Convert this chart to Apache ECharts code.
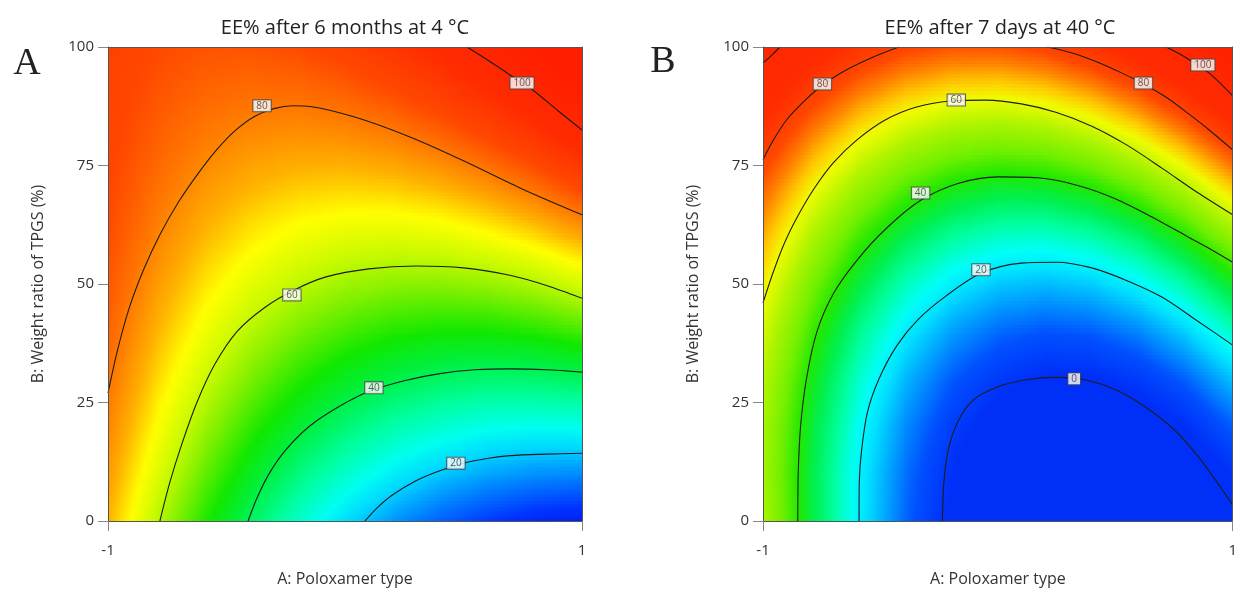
<!DOCTYPE html>
<html>
<head>
<meta charset="utf-8">
<title>EE% contour plots</title>
<script src="https://cdn.jsdelivr.net/npm/echarts@6/dist/echarts.min.js"></script>
<style>
  html, body { margin: 0; padding: 0; background: #fff; }
  #main { width: 1240px; height: 597px; }
</style>
</head>
<body>
<div id="main"></div>
<script>
// grid nodes: A coded -1..1, B in %
var aNodes = [-1, -0.8, -0.6, -0.4, -0.2, 0, 0.2, 0.4, 0.6, 0.8, 1];
var bNodes = [0, 10, 20, 30, 40, 50, 60, 70, 80, 90, 100];

// EE% after 6 months at 4 °C, one row per B value (bottom -> top)
var eeA = [
  [73.9, 61.2, 49.7, 39.5, 30.5, 22.8, 16.2, 10.9, 6.9, 4.0, 2.4],
  [76.4, 64.8, 54.3, 45.1, 37.1, 30.4, 24.9, 20.6, 17.5, 15.7, 15.1],
  [78.7, 68.1, 58.6, 50.4, 43.5, 37.8, 33.3, 30.0, 27.9, 27.1, 27.6],
  [80.8, 71.2, 62.8, 55.6, 49.6, 44.9, 41.4, 39.2, 38.1, 38.3, 39.8],
  [82.6, 74.0, 66.6, 60.4, 55.5, 51.8, 49.3, 48.1, 48.1, 49.3, 51.8],
  [84.2, 76.6, 70.2, 65.1, 61.2, 58.5, 57.0, 56.8, 57.8, 60.0, 63.5],
  [85.5, 79.0, 73.6, 69.5, 66.6, 64.9, 64.5, 65.2, 67.3, 70.5, 75.0],
  [86.6, 81.1, 76.7, 73.6, 71.7, 71.1, 71.6, 73.4, 76.5, 80.8, 86.3],
  [87.5, 83.0, 79.6, 77.5, 76.7, 77.0, 78.6, 81.4, 85.5, 90.8, 97.3],
  [88.1, 84.6, 82.3, 81.2, 81.3, 82.7, 85.3, 89.2, 94.2, 100.5, 108.1],
  [88.5, 86.0, 84.7, 84.6, 85.8, 88.2, 91.8, 96.7, 102.7, 110.1, 118.6]
];

// EE% after 7 days at 40 °C
var eeB = [
  [53.4, 35.7, 20.6, 8.2, -1.6, -8.7, -13.2, -15.1, -14.4, -11.0, -5.0],
  [52.5, 35.4, 20.9, 9.1, -0.1, -6.7, -10.6, -11.8, -10.4, -6.4, 0.3],
  [53.0, 36.4, 22.5, 11.3, 2.7, -3.2, -6.4, -7.0, -4.9, -0.2, 7.2],
  [54.8, 38.8, 25.5, 14.9, 7.0, 1.8, -0.8, -0.7, 2.1, 7.5, 15.7],
  [57.9, 42.6, 29.9, 20.0, 12.7, 8.2, 6.3, 7.1, 10.6, 16.8, 25.7],
  [62.3, 47.6, 35.7, 26.4, 19.9, 16.0, 14.9, 16.4, 20.7, 27.6, 37.3],
  [68.1, 54.1, 42.8, 34.2, 28.4, 25.3, 24.9, 27.2, 32.2, 40.0, 50.5],
  [75.1, 61.8, 51.3, 43.5, 38.4, 36.0, 36.4, 39.5, 45.3, 53.9, 65.2],
  [83.5, 71.0, 61.1, 54.1, 49.8, 48.2, 49.4, 53.3, 60.0, 69.4, 81.5],
  [93.2, 81.4, 72.4, 66.1, 62.6, 61.8, 63.8, 68.6, 76.1, 86.4, 99.4],
  [104.3, 93.2, 85.0, 79.5, 76.8, 76.9, 79.7, 85.4, 93.8, 105.0, 118.9]
];

// contour lines [A, B]
var contA100 = [[0.515, 100], [0.6, 97.3], [0.7, 94], [0.8, 90.6], [0.9, 86.5], [1, 82.5]];
var contA80 = [[-1, 27], [-0.96, 36], [-0.91, 45], [-0.85, 53], [-0.78, 60.5], [-0.7, 67.5], [-0.62, 73.3],
  [-0.54, 78.4], [-0.46, 82.5], [-0.38, 85.4], [-0.3, 87.0], [-0.22, 87.6], [-0.14, 87.4], [-0.06, 86.6],
  [0.1, 84.3], [0.3, 80.5], [0.5, 76.0], [0.75, 70.0], [1, 64.6]];
var contA60 = [[-0.781, 0], [-0.74, 8], [-0.69, 16], [-0.625, 25], [-0.55, 33], [-0.455, 40], [-0.34, 45],
  [-0.22, 48.6], [-0.08, 51.5], [0.1, 53.2], [0.3, 53.8], [0.5, 53.4], [0.7, 51.8], [0.85, 49.7], [1, 47.0]];
var contA40 = [[-0.409, 0], [-0.37, 5], [-0.32, 10], [-0.25, 15], [-0.15, 20], [-0.03, 24], [0.1, 27.3],
  [0.25, 29.6], [0.4, 31.1], [0.55, 31.9], [0.7, 32.1], [0.85, 31.9], [1, 31.4]];
var contA20 = [[0.084, 0], [0.14, 3], [0.2, 5.5], [0.3, 8.5], [0.4, 10.6], [0.5, 12.2], [0.6, 13.2],
  [0.7, 13.8], [0.85, 14.1], [1, 14.3]];

var contB100a = [[-1, 96.6], [-0.96, 98.4], [-0.928, 100]];
var contB100b = [[0.717, 100], [0.8, 97.8], [0.9, 94.5], [1, 89.7]];
var contB80a = [[-1, 76.2], [-0.96, 80], [-0.9, 84.6], [-0.82, 88.8], [-0.74, 92.2], [-0.64, 95.3],
  [-0.54, 97.7], [-0.422, 100]];
var contB80b = [[0.211, 100], [0.32, 98.7], [0.42, 96.9], [0.52, 94.7], [0.62, 92.2], [0.72, 89.3],
  [0.81, 86.0], [0.9, 82.5], [1, 78.3]];
var contB60 = [[-1, 46.0], [-0.96, 52], [-0.91, 58.5], [-0.85, 64.5], [-0.78, 70.3], [-0.7, 75.6],
  [-0.6, 80.4], [-0.48, 84.6], [-0.35, 87.3], [-0.2, 88.6], [-0.05, 88.8], [0.1, 88], [0.25, 86.2],
  [0.4, 83.3], [0.55, 79.3], [0.7, 74.4], [0.85, 69.3], [1, 64.6]];
var contB40 = [[-0.852, 0], [-0.85, 10], [-0.84, 20], [-0.815, 30], [-0.77, 40], [-0.7, 48], [-0.6, 55],
  [-0.48, 61.5], [-0.33, 67.6], [-0.17, 71.2], [0, 72.6], [0.17, 72.4], [0.34, 70.8], [0.5, 68],
  [0.65, 64.3], [0.8, 60.2], [0.9, 57.5], [1, 54.6]];
var contB20 = [[-0.591, 0], [-0.59, 8], [-0.58, 15], [-0.555, 23], [-0.506, 30], [-0.43, 37], [-0.34, 42.5],
  [-0.22, 47.5], [-0.07, 52.3], [0.1, 54.4], [0.25, 54.6], [0.4, 53.4], [0.55, 50.7], [0.7, 47.2],
  [0.85, 42.2], [1, 37.1]];
var contB0 = [[-0.236, 0], [-0.23, 8], [-0.211, 15], [-0.17, 21], [-0.105, 25.5], [0, 28.3], [0.12, 29.8],
  [0.25, 30.3], [0.38, 29.7], [0.506, 27.6], [0.63, 24], [0.75, 19.3], [0.85, 13.8], [0.93, 8.4], [1, 3.4]];

// contour labels [A, B, text]
var labelsA = [[0.747, 92.4, '100'], [-0.35, 87.6, '80'], [-0.224, 47.7, '60'], [0.122, 28.1, '40'], [0.468, 12.2, '20']];
var labelsB = [[0.873, 96.2, '100'], [0.620, 92.4, '80'], [-0.747, 92.2, '80'], [-0.177, 88.8, '60'],
  [-0.329, 69.2, '40'], [-0.072, 53.0, '20'], [0.325, 30.0, '0']];

var titles = ['EE% after 6 months at 4 °C', 'EE% after 7 days at 40 °C'];

// colour ramps (value -> colour)
var rampA = [
  [0, '#0018e8'], [6, '#0030ff'], [14, '#0080ff'], [22, '#00d8ff'], [27, '#00fff0'],
  [34, '#00ffa0'], [42, '#00f040'], [48, '#10e800'], [56, '#80f000'], [62, '#c8fa00'],
  [68, '#ffff00'], [74, '#ffb000'], [80, '#ff7800'], [86, '#ff4800'], [95, '#ff2c00'], [110, '#ff1e00']
];
var rampB = [
  [0, '#0030f8'], [6, '#0050ff'], [12, '#0098ff'], [18, '#00e0ff'], [22, '#00fff8'],
  [28, '#00ffa0'], [34, '#00f050'], [40, '#20e800'], [46, '#70f000'], [54, '#b0f400'],
  [61, '#f0fc00'], [66, '#ffc800'], [72, '#ff8000'], [78, '#ff4800'], [88, '#ff2c00'], [120, '#ff2000']
];

function hexRgb(h) {
  return [parseInt(h.substr(1, 2), 16), parseInt(h.substr(3, 2), 16), parseInt(h.substr(5, 2), 16)];
}
function rampColor(ramp, v) {
  if (v <= ramp[0][0]) return ramp[0][1];
  for (var i = 1; i < ramp.length; i++) {
    if (v <= ramp[i][0]) {
      var t = (v - ramp[i - 1][0]) / (ramp[i][0] - ramp[i - 1][0]);
      var c0 = hexRgb(ramp[i - 1][1]), c1 = hexRgb(ramp[i][1]);
      return 'rgb(' + Math.round(c0[0] + (c1[0] - c0[0]) * t) + ',' +
        Math.round(c0[1] + (c1[1] - c0[1]) * t) + ',' + Math.round(c0[2] + (c1[2] - c0[2]) * t) + ')';
    }
  }
  return ramp[ramp.length - 1][1];
}

// surface drawn cell by cell, shaded between the four node values
function surface(g, ee, ramp) {
  var nA = aNodes.length - 1;
  var cells = [];
  for (var j = 0; j < bNodes.length - 1; j++)
    for (var i = 0; i < nA; i++) cells.push([aNodes[i], bNodes[j]]);
  return {
    type: 'custom', xAxisIndex: g, yAxisIndex: g, clip: true, silent: true, z: 1,
    data: cells,
    renderItem: function (params, api) {
      var i = params.dataIndex % nA, j = Math.floor(params.dataIndex / nA);
      var p0 = api.coord([aNodes[i], bNodes[j]]);
      var p1 = api.coord([aNodes[i + 1], bNodes[j + 1]]);
      var v00 = ee[j][i], v10 = ee[j][i + 1], v01 = ee[j + 1][i], v11 = ee[j + 1][i + 1];
      var strips = 14, nStops = 8;
      var h = (p0[1] - p1[1]) / strips;
      var kids = [];
      for (var k = 0; k < strips; k++) {
        var w = 1 - (k + 0.5) / strips;
        var vl = v00 + (v01 - v00) * w, vr = v10 + (v11 - v10) * w;
        var stops = [];
        for (var s = 0; s <= nStops; s++) {
          var u = s / nStops;
          stops.push({ offset: u, color: rampColor(ramp, vl + (vr - vl) * u) });
        }
        kids.push({
          type: 'rect',
          shape: { x: p0[0], y: p1[1] + k * h, width: p1[0] - p0[0] + 0.8, height: h + 0.8 },
          style: { fill: { type: 'linear', x: 0, y: 0, x2: 1, y2: 0, colorStops: stops } }
        });
      }
      return { type: 'group', children: kids };
    }
  };
}

function contour(pts, g) {
  return {
    type: 'line', xAxisIndex: g, yAxisIndex: g, data: pts, symbol: 'none', showSymbol: false,
    smooth: 0.3, clip: true, silent: true, z: 3,
    lineStyle: { color: '#1c1c1c', width: 1.1 }
  };
}

function labels(data, g) {
  return {
    type: 'scatter', xAxisIndex: g, yAxisIndex: g, data: data, symbol: 'rect', symbolSize: 1,
    itemStyle: { color: 'rgba(0,0,0,0)' }, silent: true, z: 5,
    label: {
      show: true, position: 'inside', formatter: function (p) { return p.value[2]; },
      fontSize: 10, color: '#333', fontFamily: 'Open Sans', backgroundColor: '#fff',
      borderColor: '#444', borderWidth: 1, padding: [1, 3, 0, 3]
    }
  };
}

var grids = [
  { left: 108, top: 47, width: 474, height: 474 },
  { left: 763, top: 47, width: 474, height: 474 }
];
var textCol = '#333';
var xAxes = [], yAxes = [];
[0, 1].forEach(function (g) {
  xAxes.push({
    type: 'value', gridIndex: g, min: -1, max: 1, interval: 2, z: 6,
    name: 'A: Poloxamer type', nameLocation: 'middle', nameGap: 50,
    nameTextStyle: { fontSize: 16, color: textCol, fontFamily: 'Open Sans' },
    axisLine: { show: true, onZero: false, lineStyle: { color: '#555', width: 1 } },
    axisTick: { show: true, length: 10, lineStyle: { color: '#888' } },
    axisLabel: { fontSize: 15, color: textCol, margin: 22, fontFamily: 'Open Sans' },
    splitLine: { show: false }
  });
  yAxes.push({
    type: 'value', gridIndex: g, min: 0, max: 100, interval: 25, z: 6,
    name: 'B: Weight ratio of TPGS (%)', nameLocation: 'middle', nameGap: 62,
    nameTextStyle: { fontSize: 16, color: textCol, fontFamily: 'Open Sans' },
    axisLine: { show: true, onZero: false, lineStyle: { color: '#555', width: 1 } },
    axisTick: { show: true, length: 10, lineStyle: { color: '#888' } },
    axisLabel: { fontSize: 15, color: textCol, margin: 14, fontFamily: 'Open Sans' },
    splitLine: { show: false }
  });
});
// frame on top and right
[0, 1].forEach(function (g) {
  xAxes.push({
    type: 'value', gridIndex: g, position: 'top', min: -1, max: 1, z: 6,
    axisLine: { show: true, onZero: false, lineStyle: { color: '#555' } },
    axisTick: { show: false }, axisLabel: { show: false }, splitLine: { show: false }
  });
  yAxes.push({
    type: 'value', gridIndex: g, position: 'right', min: 0, max: 100, z: 6,
    axisLine: { show: true, onZero: false, lineStyle: { color: '#555' } },
    axisTick: { show: false }, axisLabel: { show: false }, splitLine: { show: false }
  });
});

var series = [surface(0, eeA, rampA), surface(1, eeB, rampB)];
[contA100, contA80, contA60, contA40, contA20].forEach(function (c) { series.push(contour(c, 0)); });
[contB100a, contB100b, contB80a, contB80b, contB60, contB40, contB20, contB0].forEach(function (c) { series.push(contour(c, 1)); });
series.push(labels(labelsA, 0), labels(labelsB, 1));

function txt(x, y, s, font) {
  return {
    type: 'text', x: x, y: y, silent: true,
    style: { text: s, font: font, fill: '#222', align: 'center', verticalAlign: 'middle',
      textAlign: 'center', textVerticalAlign: 'middle' }
  };
}

var chart = echarts.init(document.getElementById('main'));
chart.setOption({
  animation: false,
  backgroundColor: '#fff',
  grid: grids,
  xAxis: xAxes,
  yAxis: yAxes,
  series: series,
  graphic: [
    txt(345, 28, titles[0], '20px "Open Sans"'),
    txt(1000, 28, titles[1], '20px "Open Sans"'),
    txt(27, 64, 'A', '38px "Liberation Serif"'),
    txt(663, 62, 'B', '38px "Liberation Serif"')
  ]
});
</script>
</body>
</html>
